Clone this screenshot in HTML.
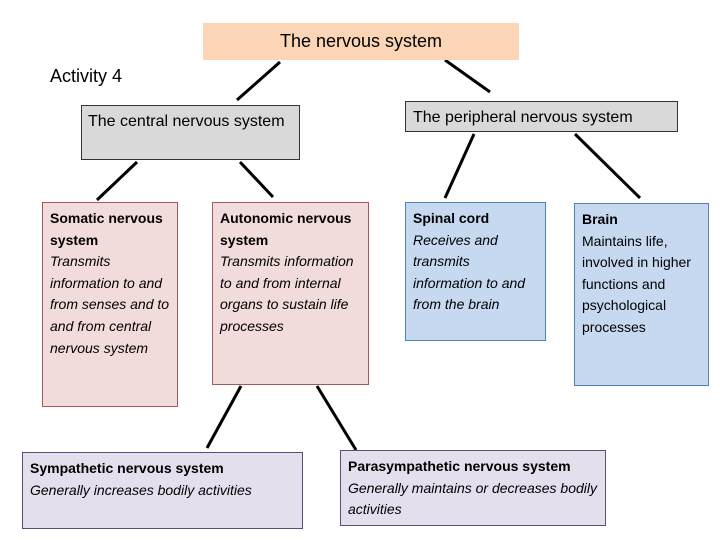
<!DOCTYPE html>
<html><head><style>
body{margin:0;width:720px;height:540px;background:#fff;position:relative;overflow:hidden;font-family:"Liberation Sans",sans-serif;color:#000}
.b{position:absolute;box-sizing:border-box;font-size:14px;line-height:21.6px;padding:5px 7px}
.b b{font-weight:bold}
i{font-style:italic}
</style></head><body>
<svg width="720" height="540" style="position:absolute;left:0;top:0">
<g stroke="#000" stroke-width="3" fill="none">
<line x1="280" y1="62" x2="237" y2="100"/>
<line x1="445" y1="60" x2="490" y2="92"/>
<line x1="137" y1="162" x2="97" y2="200"/>
<line x1="240" y1="162" x2="273" y2="197"/>
<line x1="474" y1="134" x2="445" y2="198"/>
<line x1="575" y1="134" x2="640" y2="198"/>
<line x1="241" y1="386" x2="207" y2="448"/>
<line x1="317" y1="386" x2="356" y2="450"/>
</g></svg>
<div class="b" style="left:203px;top:23px;width:316px;height:37px;background:#fbd5b5;text-align:center;font-size:18px;line-height:37px;padding:0">The nervous system</div>
<div style="position:absolute;left:50px;top:66px;font-size:18px">Activity 4</div>
<div class="b" style="left:81px;top:105px;width:219px;height:55px;background:#d9d9d9;border:1px solid #333;font-size:16px;line-height:24px;padding:4px 6px">The central nervous system</div>
<div class="b" style="left:405px;top:101px;width:273px;height:31px;background:#d9d9d9;border:1px solid #333;font-size:16px;line-height:31px;padding:0 7px">The peripheral nervous system</div>
<div class="b" style="left:42px;top:202px;width:136px;height:205px;background:#f2dcdb;border:1px solid #a05a5a"><b>Somatic nervous system</b><br><i>Transmits information to and from senses and to and from central nervous system</i></div>
<div class="b" style="left:212px;top:202px;width:157px;height:183px;background:#f2dcdb;border:1px solid #a05a5a"><b>Autonomic nervous system</b><br><i>Transmits information to and from internal organs to sustain life processes</i></div>
<div class="b" style="left:405px;top:202px;width:141px;height:139px;background:#c6d9f1;border:1px solid #4f81bd"><b>Spinal cord</b><br><i>Receives and transmits information to and from the brain</i></div>
<div class="b" style="left:574px;top:203px;width:135px;height:183px;background:#c6d9f1;border:1px solid #4f81bd"><b>Brain</b><br>Maintains life, involved in higher functions and psychological processes</div>
<div class="b" style="left:22px;top:452px;width:281px;height:77px;background:#e4dfec;border:1px solid #604a7b"><b>Sympathetic nervous system</b><br><i>Generally increases bodily activities</i></div>
<div class="b" style="left:340px;top:450px;width:266px;height:76px;background:#e4dfec;border:1px solid #604a7b"><b>Parasympathetic nervous system</b><br><i>Generally maintains or decreases bodily activities</i></div>
</body></html>
